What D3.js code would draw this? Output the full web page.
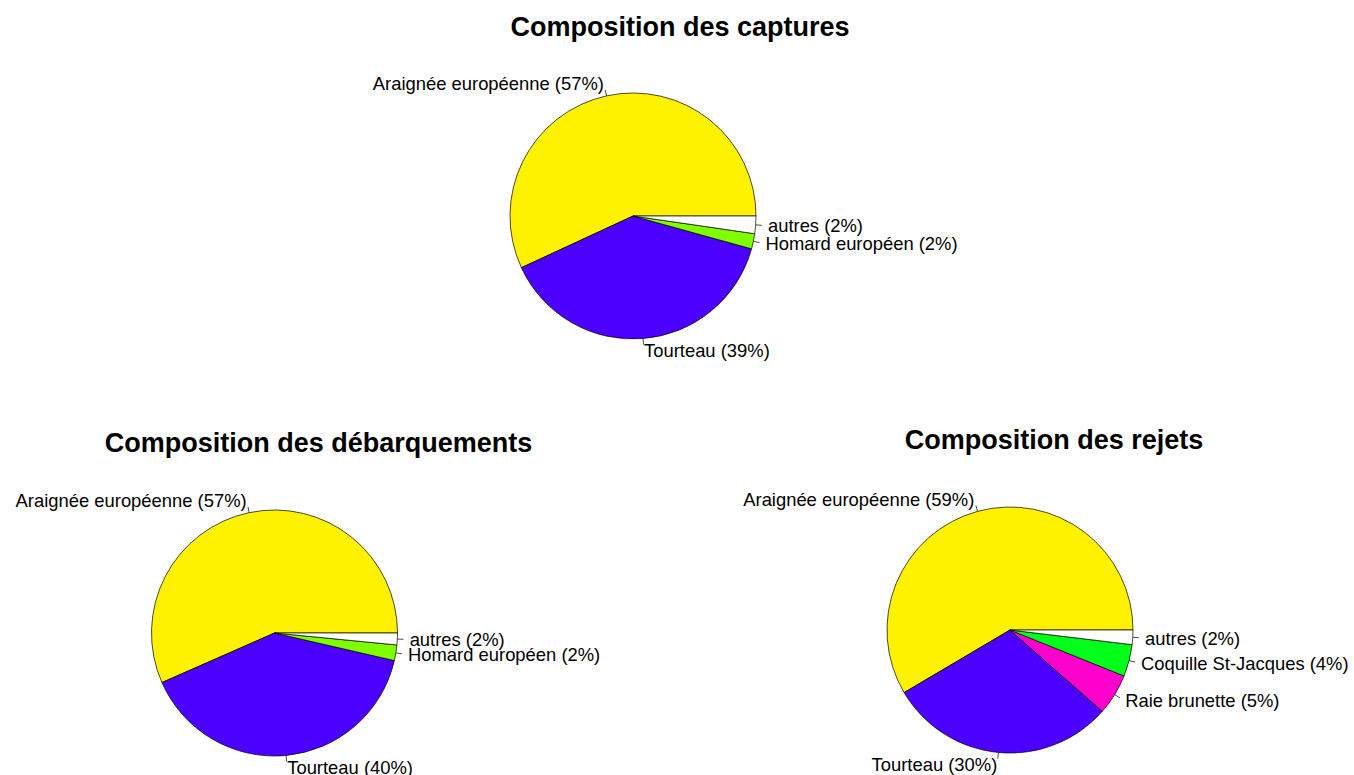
<!DOCTYPE html>
<html>
<head>
<meta charset="utf-8">
<script src="https://cdn.jsdelivr.net/npm/d3@7"></script>
<style>
  html, body { margin: 0; padding: 0; background: #fff; }
  svg { display: block; }
</style>
</head>
<body>
<svg id="chart" width="1354" height="775"></svg>
<script>
// ---- Data ----
const titles = ["Composition des captures", "Composition des débarquements", "Composition des rejets"];

const categoriesCaptures = ["Araignée européenne", "Tourteau", "Homard européen", "autres"];
const valuesCaptures = [56.9, 38.8, 2.0, 2.3];
const pctLabelsCaptures = ["57%", "39%", "2%", "2%"];

const categoriesDebarquements = ["Araignée européenne", "Tourteau", "Homard européen", "autres"];
const valuesDebarquements = [56.6, 39.8, 2.05, 1.55];
const pctLabelsDebarquements = ["57%", "40%", "2%", "2%"];

const categoriesRejets = ["Araignée européenne", "Tourteau", "Raie brunette", "Coquille St-Jacques", "autres"];
const valuesRejets = [58.5, 30.0, 5.4, 4.2, 1.9];
const pctLabelsRejets = ["59%", "30%", "5%", "4%", "2%"];

const speciesColors = {
  "Araignée européenne": "#FFF200",
  "Tourteau": "#4C00FF",
  "Homard européen": "#80FF00",
  "Raie brunette": "#FF00CC",
  "Coquille St-Jacques": "#00FF19",
  "autres": "#FFFFFF"
};

// ---- Layout ----
const panels = [
  { title: titles[0], cats: categoriesCaptures, vals: valuesCaptures, pct: pctLabelsCaptures,
    cx: 633, cy: 216, r: 123, tx: 680, ty: 36 },
  { title: titles[1], cats: categoriesDebarquements, vals: valuesDebarquements, pct: pctLabelsDebarquements,
    cx: 274.5, cy: 633, r: 123, tx: 318.5, ty: 452 },
  { title: titles[2], cats: categoriesRejets, vals: valuesRejets, pct: pctLabelsRejets,
    cx: 1010, cy: 630, r: 123, tx: 1054, ty: 449 }
];

const svg = d3.select("#chart");
const font = "'Liberation Sans', Arial, Helvetica, sans-serif";

panels.forEach(p => {
  const data = p.cats.map((c, i) => ({ cat: c, value: p.vals[i], pct: p.pct[i] }));
  // R style: start at 3 o'clock, counter-clockwise
  const pie = d3.pie().sort(null).value(d => d.value)
    .startAngle(Math.PI / 2).endAngle(Math.PI / 2 - 2 * Math.PI);
  const arcs = pie(data);
  const arc = d3.arc().innerRadius(0).outerRadius(p.r);

  const g = svg.append("g").attr("transform", `translate(${p.cx},${p.cy})`);

  g.selectAll("path.slice").data(arcs).enter().append("path")
    .attr("class", "slice")
    .attr("d", arc)
    .attr("fill", d => speciesColors[d.data.cat])
    .attr("stroke", "#000")
    .attr("stroke-width", 0.7)
    .attr("stroke-linejoin", "round");

  const mid = d => (d.startAngle + d.endAngle) / 2;

  g.selectAll("line.tick").data(arcs).enter().append("line")
    .attr("class", "tick")
    .attr("x1", d => Math.sin(mid(d)) * p.r)
    .attr("y1", d => -Math.cos(mid(d)) * p.r)
    .attr("x2", d => Math.sin(mid(d)) * p.r * 1.05)
    .attr("y2", d => -Math.cos(mid(d)) * p.r * 1.05)
    .attr("stroke", "#000")
    .attr("stroke-width", 0.7);

  g.selectAll("text.lab").data(arcs).enter().append("text")
    .attr("class", "lab")
    .attr("x", d => Math.sin(mid(d)) * p.r * 1.1)
    .attr("y", d => -Math.cos(mid(d)) * p.r * 1.1)
    .attr("dy", "0.35em")
    .attr("text-anchor", d => Math.sin(mid(d)) >= 0 ? "start" : "end")
    .attr("font-family", font)
    .attr("font-size", "18.4px")
    .attr("fill", "#000")
    .text(d => `${d.data.cat} (${d.data.pct})`);

  svg.append("text")
    .attr("x", p.tx)
    .attr("y", p.ty)
    .attr("text-anchor", "middle")
    .attr("font-family", font)
    .attr("font-weight", "bold")
    .attr("font-size", "27px")
    .attr("fill", "#000")
    .text(p.title);
});
</script>
</body>
</html>
